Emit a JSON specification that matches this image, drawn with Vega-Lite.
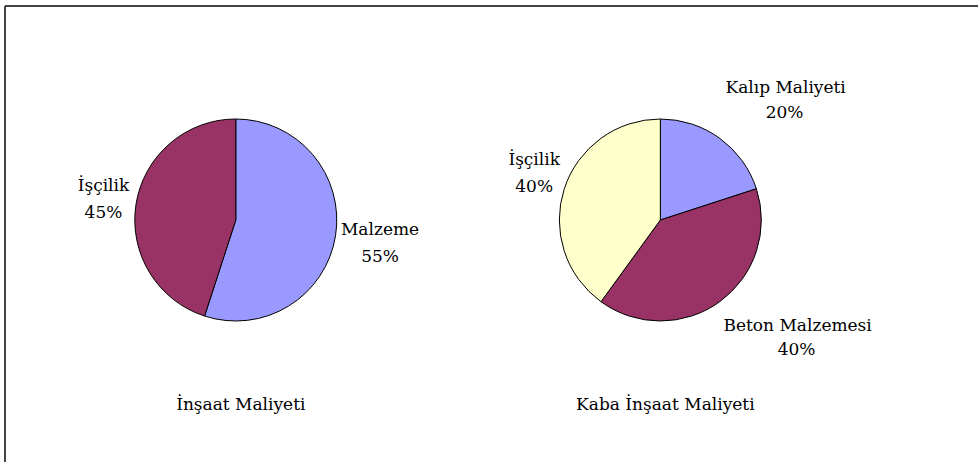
{
  "$schema": "https://vega.github.io/schema/vega-lite/v6.json",
  "autosize": {"type": "fit", "contains": "padding"},
  "width": 979,
  "height": 463,
  "padding": {"left": 4, "top": 5, "right": 0, "bottom": 0},
  "background": "white",
  "view": {"stroke": null},
  "config": {
    "text": {"font": "DejaVu Serif", "fontSize": 17, "fill": "black", "baseline": "alphabetic"}
  },
  "data": {
    "values": [
      {"chart": "İnşaat Maliyeti", "order": 1, "name": "Malzeme", "share": 0.55},
      {"chart": "İnşaat Maliyeti", "order": 2, "name": "İşçilik", "share": 0.45},
      {"chart": "Kaba İnşaat Maliyeti", "order": 1, "name": "Kalıp Maliyeti", "share": 0.20},
      {"chart": "Kaba İnşaat Maliyeti", "order": 2, "name": "Beton Malzemesi", "share": 0.40},
      {"chart": "Kaba İnşaat Maliyeti", "order": 3, "name": "İşçilik", "share": 0.40}
    ]
  },
  "encoding": {
    "x": {
      "field": "chart",
      "type": "nominal",
      "axis": null,
      "scale": {
        "type": "point",
        "domain": ["İnşaat Maliyeti", "Kaba İnşaat Maliyeti"],
        "padding": 0.6459,
        "align": 0.4208
      }
    },
    "y": {"value": 214}
  },
  "layer": [
    {
      "data": {"values": [{}]},
      "mark": {"type": "rule", "stroke": "#444444", "strokeWidth": 2},
      "encoding": {
        "x": {"value": 0},
        "x2": {"value": "width"},
        "y": {"value": 0}
      }
    },
    {
      "data": {"values": [{}]},
      "mark": {"type": "rule", "stroke": "#444444", "strokeWidth": 2},
      "encoding": {
        "x": {"value": 0},
        "y": {"value": 0},
        "y2": {"value": "height"}
      }
    },
    {
      "transform": [{"filter": "datum.chart === 'İnşaat Maliyeti'"}],
      "encoding": {
        "theta": {"field": "share", "type": "quantitative", "stack": true},
        "order": {"field": "order", "type": "ordinal"}
      },
      "layer": [
        {
          "mark": {"type": "arc", "outerRadius": 101, "stroke": "black", "strokeWidth": 1},
          "encoding": {
            "color": {
              "field": "order",
              "type": "ordinal",
              "scale": {"range": ["#9999FF", "#993366", "#FFFFCC"]},
              "legend": null
            }
          }
        },
        {
          "mark": {"type": "text", "radius": 140, "dx": 6, "dy": -7},
          "encoding": {"text": {"field": "name"}}
        },
        {
          "mark": {"type": "text", "radius": 140, "dx": 6, "dy": 20},
          "encoding": {"text": {"field": "share", "format": ".0%"}}
        }
      ]
    },
    {
      "transform": [{"filter": "datum.chart === 'Kaba İnşaat Maliyeti'"}],
      "encoding": {
        "theta": {"field": "share", "type": "quantitative", "stack": true},
        "order": {"field": "order", "type": "ordinal"}
      },
      "layer": [
        {
          "mark": {"type": "arc", "outerRadius": 101, "stroke": "black", "strokeWidth": 1},
          "encoding": {
            "color": {
              "field": "order",
              "type": "ordinal",
              "scale": {"range": ["#9999FF", "#993366", "#FFFFCC"]},
              "legend": null
            }
          }
        },
        {
          "mark": {
            "type": "text",
            "radius": 140,
            "dx": {"expr": "datum.name === 'Kalıp Maliyeti' ? 43 : datum.name === 'Beton Malzemesi' ? 55 : 7"},
            "dy": {"expr": "datum.name === 'Kalıp Maliyeti' ? -14 : datum.name === 'Beton Malzemesi' ? -2 : -12"}
          },
          "encoding": {"text": {"field": "name"}}
        },
        {
          "mark": {
            "type": "text",
            "radius": 140,
            "dx": {"expr": "datum.name === 'Kalıp Maliyeti' ? 42 : datum.name === 'Beton Malzemesi' ? 54 : 7"},
            "dy": {"expr": "datum.name === 'Kalıp Maliyeti' ? 11 : datum.name === 'Beton Malzemesi' ? 22 : 15"}
          },
          "encoding": {"text": {"field": "share", "format": ".0%"}}
        }
      ]
    },
    {
      "transform": [{"aggregate": [{"op": "count", "as": "slices"}], "groupby": ["chart"]}],
      "mark": {"type": "text", "dx": 5, "dy": 190},
      "encoding": {"text": {"field": "chart"}}
    }
  ]
}
